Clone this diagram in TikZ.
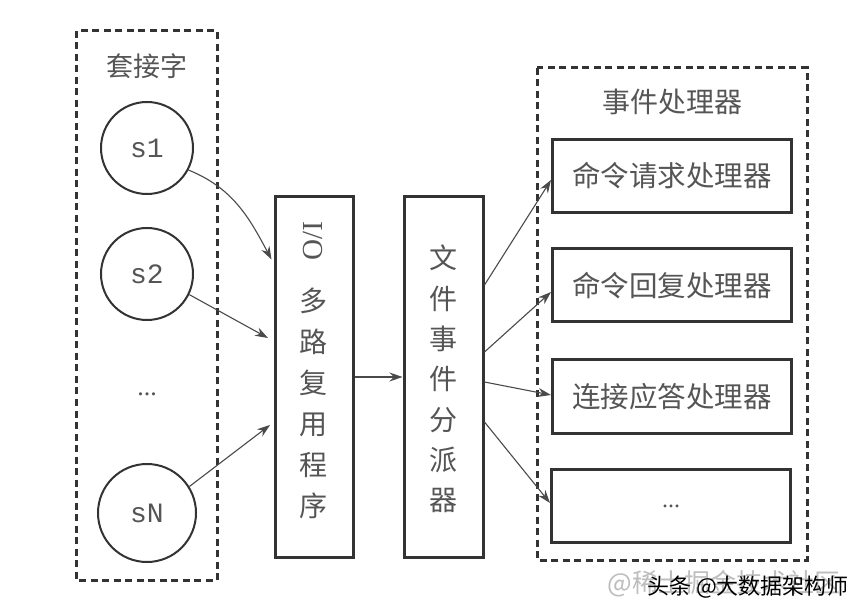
\documentclass[tikz,border=0pt]{standalone}
\usepackage{fontspec}
\setmainfont{Liberation Serif}
\newfontfamily\cjk{Noto Sans CJK SC}
\newfontfamily\mono{Liberation Mono}
\usetikzlibrary{arrows.meta,positioning,calc}
\definecolor{rdInk}{HTML}{333333}
\definecolor{rdText}{HTML}{555555}
\definecolor{rdLine}{HTML}{4A4A4A}
\definecolor{rdMark}{HTML}{BDBDBD}

\begin{document}
\begin{tikzpicture}[x=1pt, y=1pt,
  frm/.style={draw=rdInk, line width=3pt, dash pattern=on 7pt off 4.5pt},
  sock/.style={circle, draw=rdInk, line width=2pt, minimum size=92pt, inner sep=0pt, font=\mono\fontsize{28}{28}\selectfont, text=rdText},
  col/.style={draw=rdInk, line width=3pt, minimum width=78pt, minimum height=360pt, inner sep=0pt},
  hdl/.style={draw=rdInk, line width=3pt, minimum width=239pt, minimum height=73pt, inner sep=0pt, font=\cjk\fontsize{28.5}{28.5}\selectfont, text=rdText},
  ttl/.style={font=\cjk\fontsize{27}{27}\selectfont, text=rdText},
  vtx/.style={font=\cjk\fontsize{28}{41}\selectfont, text=rdText, align=center, inner sep=0pt},
  dts/.style={font=\fontsize{26}{26}\selectfont, text=rdText},
  arr/.style={-{Stealth[length=13pt, width=9pt]}, line width=1.1pt, rdLine}]
\fill[white] (0,0) rectangle (868,-612);
\useasboundingbox (0,0) rectangle (868,-612);

% ── sockets ──
\draw[frm] (76,-31) rectangle (217,-580);
\node[ttl] (socktitle) at (147,-66) {套接字};
\node[sock] (s1) at (147,-148) {s1};
\node[sock] (s2) at (147,-274) {s2};
\node[dts] (sdots) at (147,-394) {...};
\node[sock, minimum size=98pt] (sN) at (147,-513) {sN};

% ── multiplexer and dispatcher ──
\node[col] (io) at (314,-377) {};
\node[font=\fontsize{29}{29}\selectfont, text=rdText, rotate=-90] (iolbl) at (313,-241) {I/O};
\node[vtx] (iotext) at (313,-403) {多\\路\\复\\用\\程\\序};
\node[col, minimum width=79pt] (disp) at (443.5,-377) {};
\node[vtx, font=\cjk\fontsize{28}{40.3}\selectfont] (disptext) at (443,-379) {文\\件\\事\\件\\分\\派\\器};

% ── event handlers ──
\draw[frm] (537,-68) rectangle (807,-560);
\node[ttl, font=\cjk\fontsize{28}{28}\selectfont] (hdltitle) at (672,-102) {事件处理器};
\node[hdl] (h1) at (672,-176) {命令请求处理器};
\node[hdl] (h2) at (672,-285.5) {命令回复处理器};
\node[hdl] (h3) at (672,-396.5) {连接应答处理器};
\node[hdl, font=\fontsize{24}{24}\selectfont] (h4) at (671,-506) {...};

% ── connectors ──
\draw[arr] (s1.-28) to[out=-22, in=118] ([xshift=-2pt, yshift=-64pt]io.north west);
\draw[arr] (s2.-26) -- ([xshift=-5.5pt, yshift=39pt]io.west);
\draw[arr] (sN.32) -- ([xshift=-3.5pt, yshift=-48pt]io.west);
\draw[arr] (io) -- (disp);
\foreach \h/\a/\b in {h1/92/-4, h2/25/-6.5, h3/-5/1.5, h4/-45/3}{
  \draw[arr] ([yshift=\a pt]disp.east) -- ([yshift=\b pt]\h.west);}

% ── watermark ──
\node[font=\cjk\fontsize{26}{26}\selectfont, text=rdMark] (markbg) at (724,-584) {@稀土掘金技术社区};
\node[font=\cjk\fontsize{22}{22}\selectfont, text=black] (markfg) at (748,-587) {头条 @大数据架构师};
\end{tikzpicture}
\end{document}
